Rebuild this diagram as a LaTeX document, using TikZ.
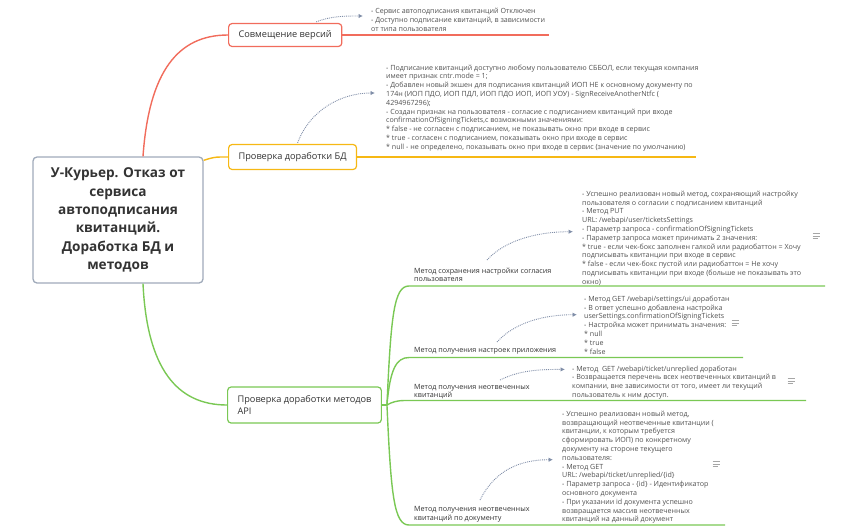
\documentclass[tikz,border=0pt]{standalone}
\usepackage{fontspec}
\setmainfont{Open Sans}
\usetikzlibrary{arrows.meta}
\definecolor{redbr}{RGB}{241,108,92}
\definecolor{orangebr}{RGB}{246,184,20}
\definecolor{greenbr}{RGB}{122,200,84}
\definecolor{rootgray}{RGB}{160,170,186}
\definecolor{linkgray}{RGB}{128,142,168}
\definecolor{textgray}{RGB}{51,51,51}
\definecolor{notegray}{RGB}{80,80,80}
\begin{document}
\begin{tikzpicture}[x=1pt, y=-1pt,
  root/.style={draw=rootgray, line width=1.3pt, rounded corners=4pt, fill=white,
    minimum width=170pt, minimum height=126pt, align=center, text=textgray,
    font=\fontsize{13.6}{18.3}\selectfont\bfseries},
  topic/.style={draw, line width=1.2pt, rounded corners=3.5pt, fill=white, anchor=west,
    inner xsep=10pt, inner ysep=0pt, minimum height=23pt, align=left, text=textgray,
    font=\fontsize{9.2}{11.2}\selectfont},
  sublabel/.style={anchor=north west, inner sep=0pt, align=left, text=textgray,
    font=\fontsize{7.2}{8.4}\selectfont},
  note/.style={anchor=north west, inner sep=0pt, align=left, text=notegray,
    font=\fontsize{7.1}{8.8}\selectfont},
  branch/.style={line width=1.4pt},
  link/.style={densely dotted, line width=0.9pt, draw=linkgray,
    -{Latex[length=4.5pt,width=4.5pt]}},
  icon/.style={draw=gray!70, line width=0.8pt}]
\useasboundingbox (0,0) rectangle (858,531);

% main branches
\node[topic, draw=redbr] (t1) at (228,35) {Совмещение версий};
\node[topic, draw=orangebr, minimum height=25pt] (t2) at (228,157) {Проверка доработки БД};
\node[topic, draw=greenbr, minimum height=36pt] (t3) at (227,405)
  {Проверка доработки методов\\API};
\node[root] (root) at (118,220) {У-Курьер. Отказ от\\сервиса\\автоподписания\\квитанций.\\Доработка БД и\\методов};

\draw[branch, redbr] ([xshift=25pt]root.north) .. controls +(6,-85) and +(-50,0) .. (t1.west);
\draw[branch, redbr] (t1.east) -- ++(207,0);
\draw[branch, orangebr] ([yshift=-4pt]root.north east) .. controls +(12,-4) and +(-10,0) .. (t2.west);
\draw[branch, orangebr] (t2.east) -- ++(339,0);
\draw[branch, greenbr] ([xshift=25pt]root.south) .. controls +(4,85) and +(-50,0) .. (t3.west);
\draw[branch, greenbr] (t3.east) -- ++(5,0) coordinate (jn);

% sub-topics of the API branch
\coordinate (u1) at (409,286);
\coordinate (u2) at (409,357.5);
\coordinate (u3) at (405,400.5);
\coordinate (u4) at (409,525);
\draw[branch, greenbr] (jn) .. controls +(4,-90) and +(-15,0) .. (u1) -- (825,286);
\draw[branch, greenbr] (jn) .. controls +(3,-35) and +(-13,0) .. (u2) -- (743,357.5);
\draw[branch, greenbr] (jn) .. controls +(5,-3) and +(-8,0) .. (u3) -- (806,400.5);
\draw[branch, greenbr] (jn) .. controls +(4,90) and +(-15,0) .. (u4) -- (725,525);

\node[sublabel] (s1) at (414,267.4) {Метод сохранения настройки согласия\\пользователя};
\node[sublabel] (s2) at (414,347.4) {Метод получения настроек приложения};
\node[sublabel] (s3) at (414,384) {Метод получения неотвеченных\\квитанций};
\node[sublabel] (s4) at (414,506.4) {Метод получения неотвеченных\\квитанций по документу};

% notes
\node[note] (n1) at (371,8) {- Сервис автоподписания квитанций Отключен\\
- Доступно подписание квитанций, в зависимости\\от типа пользователя};
\node[note] (n2) at (386,64.5) {- Подписание квитанций доступно любому пользователю СББОЛ, если текущая компания\\
имеет признак cntr.mode = 1;\\
- Добавлен новый экшен для подписания квитанций ИОП НЕ к основному документу по\\
174н (ИОП ПДО, ИОП ПДЛ, ИОП ПДО ИОП, ИОП УОУ) - SignReceiveAnotherNtfc (\\
4294967296);\\
- Создан признак на пользователя - согласие с подписанием квитанций при входе\\
confirmationOfSigningTickets,с возможными значениями:\\
* false - не согласен с подписанием, не показывать окно при входе в сервис\\
* true - согласен с подписанием, показывать окно при входе в сервис\\
* null - не определено, показывать окно при входе в сервис (значение по умолчанию)};
\node[note] (n3) at (582,190.7) {- Успешно реализован новый метод, сохраняющий настройку\\
пользователя о согласии с подписанием квитанций\\
- Метод PUT\\
URL: /webapi/user/ticketsSettings\\
- Параметр запроса - confirmationOfSigningTickets\\
- Параметр запроса может принимать 2 значения:\\
* true - если чек-бокс заполнен галкой или радиобаттон = Хочу\\
подписывать квитанции при входе в сервис\\
* false - если чек-бокс пустой или радиобаттон = Не хочу\\
подписывать квитанции при входе (больше не показывать это\\
окно)};
\node[note] (n4) at (584,295.7) {- Метод GET /webapi/settings/ui доработан\\
- В ответ успешно добавлена настройка\\
userSettings.confirmationOfSigningTickets\\
- Настройка может принимать значения:\\
* null\\
* true\\
* false};
\node[note] (n5) at (572,365.4) {- Метод \ GET /webapi/ticket/unreplied доработан\\
- Возвращается перечень всех неотвеченных квитанций в\\
компании, вне зависимости от того, имеет ли текущий\\
пользователь к ним доступ.};
\node[note] (n6) at (562,410.7) {- Успешно реализован новый метод,\\
возвращающий неотвеченные квитанции (\\
квитанции, к которым требуется\\
сформировать ИОП) по конкретному\\
документу на стороне текущего\\
пользователя:\\
- Метод GET\\
URL: /webapi/ticket/unreplied/\{id\}\\
- Параметр запроса - \{id\} - Идентификатор\\
основного документа\\
- При указании id документа успешно\\
возвращается массив неотвеченных\\
квитанций на данный документ};

% links to notes
\draw[link] ([xshift=31pt,yshift=1pt]t1.north) .. controls +(15,-6) and +(-18,0) .. ([xshift=-8pt,yshift=-8pt]n1.north west);
\draw[link] ([xshift=5pt,yshift=1pt]t2.north) .. controls +(12,-32) and +(-35,0) .. ([xshift=-11pt,yshift=-28.5pt]n2.north west);
\draw[link] ([xshift=73pt,yshift=7.4pt]s1.north west) .. controls +(18,-20) and +(-35,0) .. ([xshift=-9pt,yshift=-41pt]n3.north west);
\draw[link] ([xshift=83pt,yshift=5.4pt]s2.north west) .. controls +(18,-20) and +(-32,0) .. ([xshift=-7pt,yshift=-19pt]n4.north west);
\draw[link] ([xshift=86pt,yshift=4pt]s3.north west) .. controls +(20,-10) and +(-25,0) .. ([xshift=-7pt,yshift=-4pt]n5.north west);
\draw[link] ([xshift=66pt,yshift=6.4pt]s4.north west) .. controls +(15,-30) and +(-33,0) .. ([xshift=-9pt,yshift=-49pt]n6.north west);

% note icons
\foreach \ix/\iy in {816/236, 735/323, 791/381, 716/464} {
  \draw[icon] (\ix-3.5,\iy-2.6) -- ++(7,0);
  \draw[icon] (\ix-3.5,\iy) -- ++(7,0);
  \draw[icon] (\ix-3.5,\iy+2.6) -- ++(5,0);
}
\end{tikzpicture}
\end{document}
